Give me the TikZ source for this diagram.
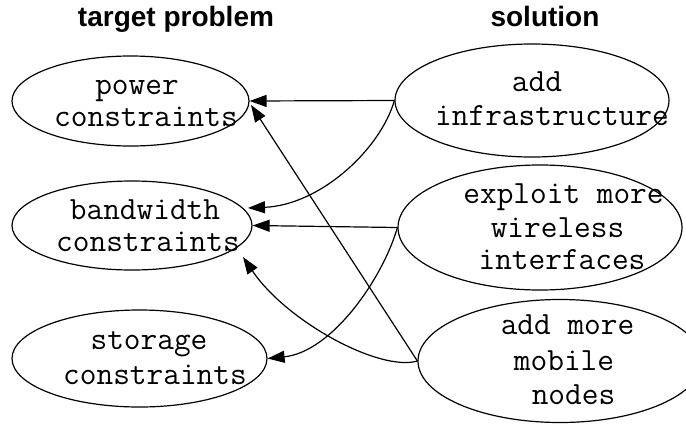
\documentclass[tikz,border=0pt]{standalone}
\usepackage{fontspec}
\setmainfont{Liberation Sans}
\usetikzlibrary{shapes.geometric,arrows.meta}

\tikzset{
  oval/.style={draw, ellipse, inner sep=0pt, line width=1.2pt},
  heading/.style={font=\fontsize{28}{33}\selectfont\bfseries, anchor=base},
  txt/.style={font=\ttfamily\fontsize{32.4}{36}\selectfont, anchor=base, inner sep=0pt},
  link/.style={line width=1.2pt, -{Triangle[length=17pt,width=12pt]}},
}

\begin{document}
\begin{tikzpicture}[x=1pt, y=-1pt]
  \useasboundingbox (0,0) rectangle (686,424);

  % column headings
  \node[heading] (hprob) at (176,26) {target problem};
  \node[heading] (hsol)  at (545,26) {solution};

  % target problems
  \node[oval, minimum width=237pt, minimum height=90pt] (power) at (130.5,101) {};
  \node[oval, minimum width=240pt, minimum height=89pt] (bw)    at (132,225.5) {};
  \node[oval, minimum width=255pt, minimum height=97pt] (stor)  at (139.5,358.5) {};

  % solutions
  \node[oval, minimum width=274pt, minimum height=113pt] (infra)   at (532,100.5) {};
  \node[oval, minimum width=284pt, minimum height=125pt] (exploit) at (540,227.5) {};
  \node[oval, minimum width=284pt, minimum height=123pt] (mobile)  at (560,361) {};

  % labels
  \node[txt] (power1) at (137,94)  {power};
  \node[txt] (power2) at (146,126) {constraints};
  \node[txt] (bw1)    at (145,219) {bandwidth};
  \node[txt] (bw2)    at (148,251) {constraints};
  \node[txt] (stor1)  at (149,349) {storage};
  \node[txt] (stor2)  at (155,384) {constraints};
  \node[txt] (infra1) at (537,91)  {add};
  \node[txt] (infra2) at (552,125) {infrastructure};
  \node[txt] (expl1)  at (563.5,203) {exploit more};
  \node[txt] (expl2)  at (557.5,237) {wireless};
  \node[txt] (expl3)  at (562,269) {interfaces};
  \node[txt] (mob1)   at (567.5,334) {add more};
  \node[txt] (mob2)   at (564,370) {mobile};
  \node[txt] (mob3)   at (573.5,404) {nodes};

  % add infrastructure
  \draw[link] (infra.west) -- (power.east);
  \draw[link] (infra.west) .. controls (380,150) and (320,205) .. ([shift={(116,-17.5)}]bw.center);

  % exploit more wireless interfaces
  \draw[link] (exploit.west) -- (bw.east);
  \draw[link] (exploit.west) .. controls (383,278) and (332,352) .. (stor.east);

  % add more mobile nodes
  \draw[link] (mobile.west) -- ([shift={(120.5,4)}]power.center);
  \draw[link] (mobile.west) .. controls (380,372) and (287,322) .. ([shift={(111,31.5)}]bw.center);
\end{tikzpicture}
\end{document}
